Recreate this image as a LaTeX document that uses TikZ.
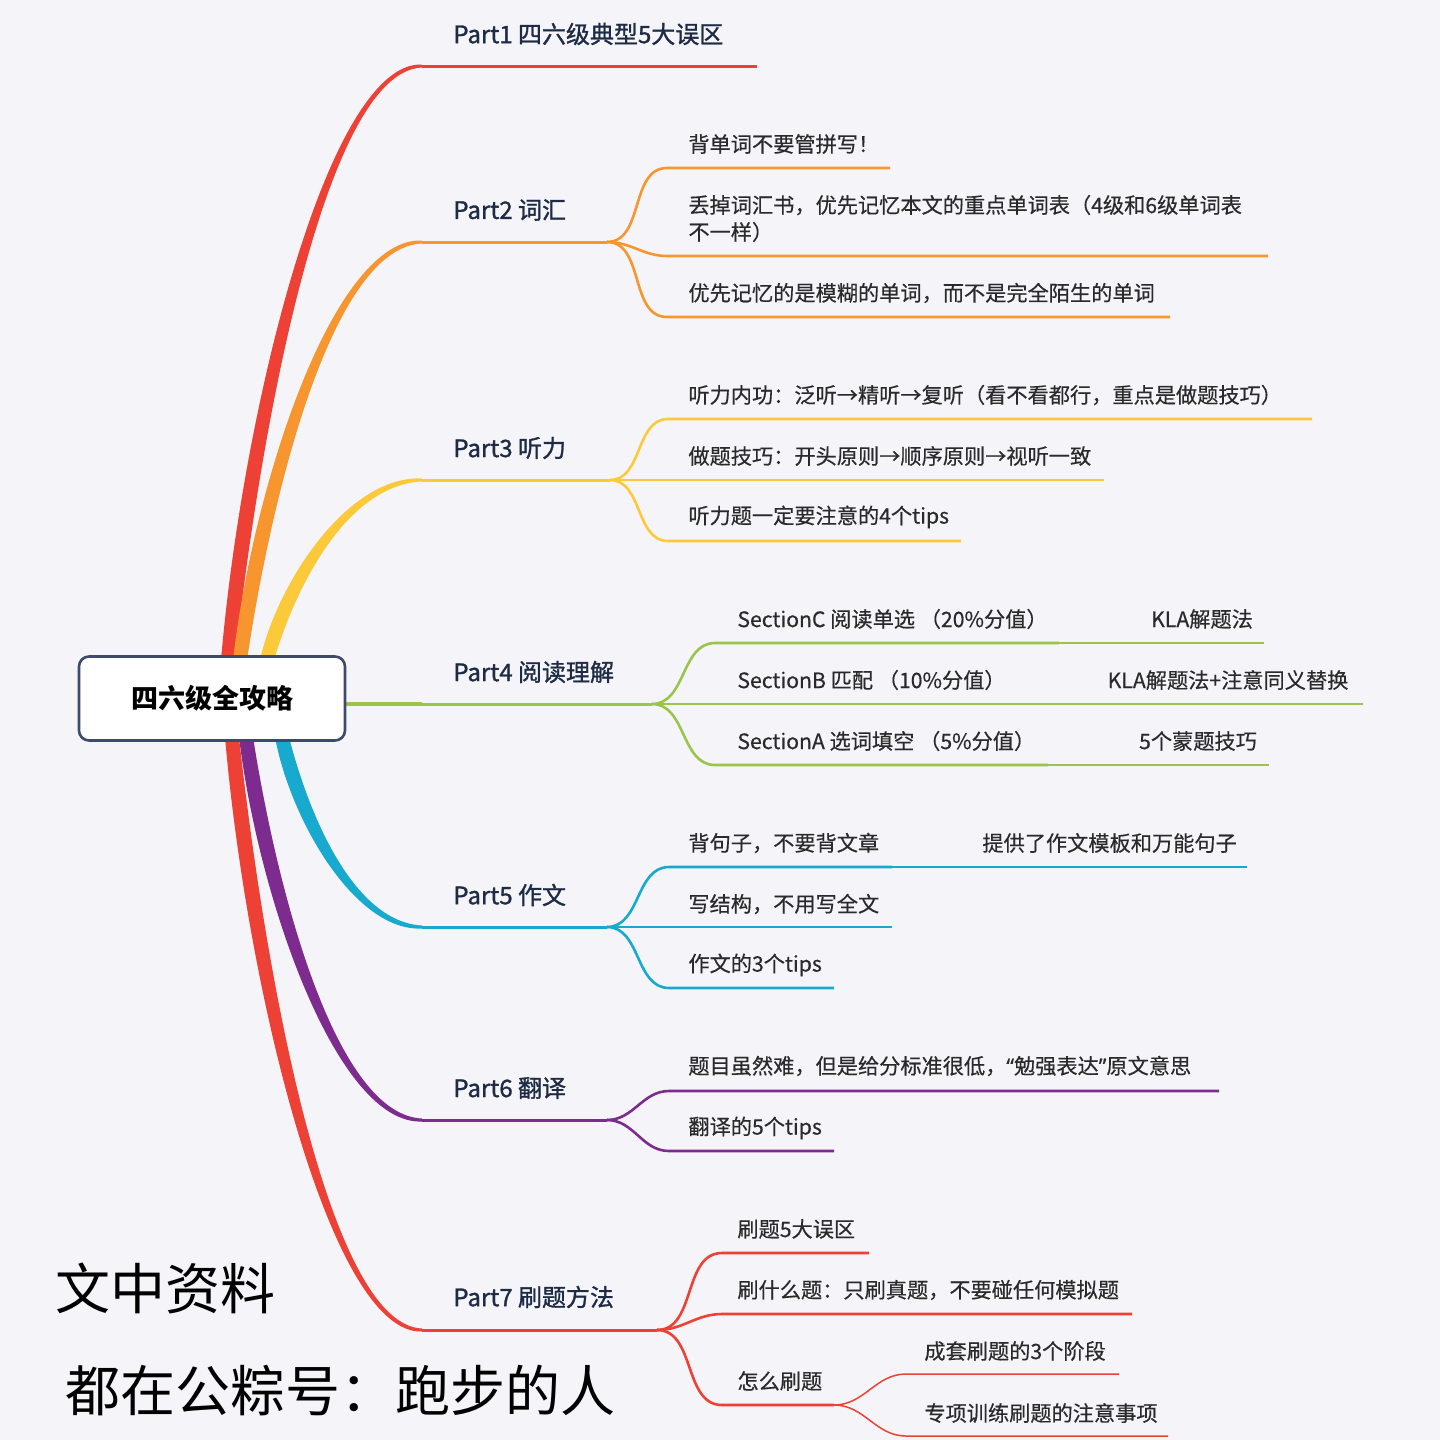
\documentclass[tikz,border=0pt]{standalone}
\usepackage{fontspec}
\setmainfont{Noto Sans CJK SC}
\newfontfamily\partfont{Noto Sans CJK SC}[FakeBold=1.2]
\newfontfamily\subfont{Noto Sans CJK SC}[FakeBold=0.4]
\newfontfamily\quotefont{Noto Sans}[FakeBold=0.4]
\usepackage{tikz}

\definecolor{bgcol}{HTML}{F4F4F9}
\definecolor{brred}{HTML}{EE4136}
\definecolor{brorange}{HTML}{F7962E}
\definecolor{bryellow}{HTML}{FCC93A}
\definecolor{brgreen}{HTML}{9DC44A}
\definecolor{brcyan}{HTML}{18AACE}
\definecolor{brpurple}{HTML}{7D2B8E}
\definecolor{boxcol}{HTML}{3D4A6B}
\definecolor{parttext}{HTML}{1E2B44}
\definecolor{subtext}{HTML}{2A2A2A}

% tapered trunk: colour, x0, y0, c1x, c1y, c2x, end y, sign (+1 up, -1 down)
\newcommand{\trunk}[8]{%
  \fill[#1] (#2-7,#3) .. controls (#4-10,#5) and (#6,{#7-5*(#8)}) .. (422,{#7-1.5*(#8)})
    -- (422,{#7+1.5*(#8)}) .. controls (#6,{#7+5*(#8)}) and (#4+10,#5) .. (#2+7,#3) -- cycle;}

\tikzset{
  parttxt/.style={anchor=west, inner sep=0pt, text=parttext,
    font=\partfont\fontsize{12}{14}\selectfont},
  subtxt/.style={anchor=west, inner sep=0pt, text=subtext,
    font=\subfont\fontsize{10.6}{13.5}\selectfont},
  handtxt/.style={anchor=west, inner sep=0pt, text=black,
    font=\fontsize{27.5}{30}\selectfont},
  rootbox/.style={draw=boxcol, line width=1.3pt, fill=white,
    rounded corners=5pt, minimum width=133pt, minimum height=42pt,
    font=\fontsize{13.5}{16}\selectfont\bfseries},
  mainln/.style={line width=1.5pt},
  subln/.style={line width=1.3pt},
  thinln/.style={line width=0.75pt},
  twig/.style={out=0, in=180}
}

\begin{document}
\begin{tikzpicture}[x=0.5pt, y=-0.5pt]

\useasboundingbox (0,0) rectangle (1440,1440);
\fill[bgcol] (0,0) rectangle (1440,1440);

% trunks from the root
\trunk{brred}{228}{660}{253}{405}{329}{66}{1}
\trunk{brorange}{240}{660}{264}{480}{335}{242}{1}
\trunk{bryellow}{267}{660}{287}{583}{348}{480}{1}
\trunk{brcyan}{282}{737}{300}{819}{355}{927}{-1}
\trunk{brpurple}{246}{737}{269}{902}{338}{1120}{-1}
\trunk{brred}{232}{737}{257}{992}{331}{1330}{-1}

% Part1
\coordinate (b1) at (422,66);
\coordinate (e1) at (757,66);
\draw[brred, mainln] (b1) -- (e1);
\node[parttxt] (p1) at (453,34) {Part1 四六级典型5大误区};

% Part2
\coordinate (b2) at (422,242);
\coordinate (j2) at (607,242);
\coordinate (t21) at (667,168);
\coordinate (u21) at (890,168);
\coordinate (t22) at (667,256);
\coordinate (u22) at (1268,256);
\coordinate (t23) at (667,317);
\coordinate (u23) at (1170,317);
\draw[brorange, mainln] (b2) -- (j2);
\draw[brorange, subln] (j2) to[twig] (t21) -- (u21);
\draw[brorange, subln] (j2) to[twig] (t22) -- (u22);
\draw[brorange, subln] (j2) to[twig] (t23) -- (u23);
\node[parttxt] (p2) at (453,210) {Part2 词汇};
\node[subtxt] (s21) at (688,144) {背单词不要管拼写！};
\node[subtxt, align=left] (s22) at (688,218.5)
  {丢掉词汇书，优先记忆本文的重点单词表（4级和6级单词表\\不一样）};
\node[subtxt] (s23) at (688,293) {优先记忆的是模糊的单词，而不是完全陌生的单词};

% Part3
\coordinate (b3) at (422,480);
\coordinate (j3) at (610,480);
\coordinate (t31) at (668,419);
\coordinate (u31) at (1312,419);
\coordinate (u32) at (1104,480);
\coordinate (t33) at (668,541);
\coordinate (u33) at (961,541);
\draw[bryellow, mainln] (b3) -- (j3);
\draw[bryellow, subln] (j3) to[twig] (t31) -- (u31);
\draw[bryellow, subln] (j3) -- (u32);
\draw[bryellow, subln] (j3) to[twig] (t33) -- (u33);
\node[parttxt] (p3) at (453,448) {Part3 听力};
\node[subtxt] (s31) at (688,395) {听力内功：泛听→精听→复听（看不看都行，重点是做题技巧）};
\node[subtxt] (s32) at (688,456) {做题技巧：开头原则→顺序原则→视听一致};
\node[subtxt] (s33) at (688,517) {听力题一定要注意的4个tips};

% Part4
\coordinate (g4) at (346,704);
\coordinate (b4) at (422,704);
\coordinate (j4) at (652,704);
\coordinate (t41) at (715,643);
\coordinate (m41) at (1059,643);
\coordinate (u41) at (1264,643);
\coordinate (m42) at (1017,704);
\coordinate (u42) at (1363,704);
\coordinate (t43) at (715,765);
\coordinate (m43) at (1048,765);
\coordinate (u43) at (1269,765);
\draw[brgreen, line width=2.2pt] (g4) -- (b4);
\draw[brgreen, mainln] (b4) -- (j4);
\draw[brgreen, subln] (j4) to[twig] (t41) -- (m41);
\draw[brgreen, subln] (j4) -- (m42);
\draw[brgreen, subln] (j4) to[twig] (t43) -- (m43);
\draw[brgreen, thinln] (m41) -- (u41);
\draw[brgreen, thinln] (m42) -- (u42);
\draw[brgreen, thinln] (m43) -- (u43);
\node[parttxt] (p4) at (453,672) {Part4 阅读理解};
\node[subtxt] (s41) at (737,619) {SectionC 阅读单选 （20\%分值）};
\node[subtxt] (s42) at (737,680) {SectionB 匹配 （10\%分值）};
\node[subtxt] (s43) at (737,741) {SectionA 选词填空 （5\%分值）};
\node[subtxt, anchor=center] (r41) at (1202,619) {KLA解题法};
\node[subtxt, anchor=center] (r42) at (1228,680) {KLA解题法+注意同义替换};
\node[subtxt, anchor=center] (r43) at (1198,741) {5个蒙题技巧};

% Part5
\coordinate (b5) at (422,927);
\coordinate (j5) at (607,927);
\coordinate (t51) at (669,867);
\coordinate (m51) at (892,867);
\coordinate (u51) at (1247,867);
\coordinate (m52) at (892,927);
\coordinate (t53) at (669,988);
\coordinate (u53) at (834,988);
\draw[brcyan, mainln] (b5) -- (j5);
\draw[brcyan, subln] (j5) to[twig] (t51) -- (m51);
\draw[brcyan, thinln] (m51) -- (u51);
\draw[brcyan, subln] (j5) -- (m52);
\draw[brcyan, subln] (j5) to[twig] (t53) -- (u53);
\node[parttxt] (p5) at (453,895) {Part5 作文};
\node[subtxt] (s51) at (688,843) {背句子，不要背文章};
\node[subtxt] (r51) at (982,843) {提供了作文模板和万能句子};
\node[subtxt] (s52) at (688,904) {写结构，不用写全文};
\node[subtxt] (s53) at (688,965) {作文的3个tips};

% Part6
\coordinate (b6) at (422,1120);
\coordinate (j6) at (607,1120);
\coordinate (t61) at (669,1091);
\coordinate (u61) at (1219,1091);
\coordinate (t62) at (669,1151);
\coordinate (u62) at (834,1151);
\draw[brpurple, mainln] (b6) -- (j6);
\draw[brpurple, subln] (j6) to[twig] (t61) -- (u61);
\draw[brpurple, subln] (j6) to[twig] (t62) -- (u62);
\node[parttxt] (p6) at (453,1088) {Part6 翻译};
\node[subtxt] (s61) at (688,1066)
  {题目虽然难，但是给分标准很低，{\quotefont “}勉强表达{\quotefont ”}原文意思};
\node[subtxt] (s62) at (688,1128) {翻译的5个tips};

% Part7
\coordinate (b7) at (422,1330);
\coordinate (j7) at (657,1330);
\coordinate (t71) at (722,1253);
\coordinate (u71) at (869,1253);
\coordinate (t72) at (722,1314);
\coordinate (u72) at (1132,1314);
\coordinate (t73) at (722,1405);
\coordinate (j73) at (834,1405);
\coordinate (t74) at (906,1374);
\coordinate (u74) at (1119,1374);
\coordinate (t75) at (906,1436);
\coordinate (u75) at (1168,1436);
\draw[brred, mainln] (b7) -- (j7);
\draw[brred, subln] (j7) to[twig] (t71) -- (u71);
\draw[brred, subln] (j7) to[twig] (t72) -- (u72);
\draw[brred, subln] (j7) to[twig] (t73) -- (j73);
\draw[brred, thinln] (j73) to[twig] (t74) -- (u74);
\draw[brred, thinln] (j73) to[twig] (t75) -- (u75);
\node[parttxt] (p7) at (453,1297) {Part7 刷题方法};
\node[subtxt] (s71) at (737,1229) {刷题5大误区};
\node[subtxt] (s72) at (737,1290) {刷什么题：只刷真题，不要碰任何模拟题};
\node[subtxt] (s73) at (737,1381) {怎么刷题};
\node[subtxt] (s74) at (924,1351) {成套刷题的3个阶段};
\node[subtxt] (s75) at (924,1413) {专项训练刷题的注意事项};

% root
\node[rootbox] (root) at (212,698.5) {四六级全攻略};

% note
\node[handtxt] (h1) at (55,1288) {文中资料};
\node[handtxt] (h2) at (65,1390) {都在公粽号：跑步的人};

\end{tikzpicture}
\end{document}
